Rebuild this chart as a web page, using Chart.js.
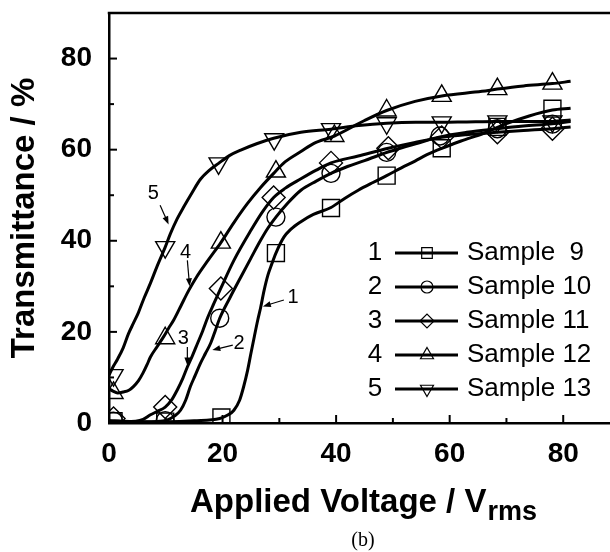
<!DOCTYPE html>
<html>
<head>
<meta charset="utf-8">
<script src="https://cdn.jsdelivr.net/npm/chart.js@4.4.1/dist/chart.umd.min.js"></script>
<style>
  html, body { margin: 0; padding: 0; background: #fff; overflow: hidden; }
  #wrap { width: 620px; height: 552px; }
</style>
</head>
<body>
<div id="wrap"><canvas id="grafico" width="620" height="552"></canvas></div>
<script>
// curvas medidas (tensão em Vrms, transmitância em %)
const v9 = [0, 5, 10, 15, 19.5, 21, 22, 23, 23.7, 24.4, 25, 25.6, 26.2, 26.7, 27.3, 28, 28.7, 29.4, 30.8, 32, 33.8, 36, 39.1, 41.5, 43.9, 46.5, 48.9, 51.5, 53.9, 56, 58.6, 62, 66, 70, 74, 78.1, 81.3];
const t9 = [0.5, 0.3, 0.3, 0.5, 1.0, 1.8, 2.8, 5, 7.9, 11.5, 15.3, 19, 22.6, 25.3, 29, 32.5, 35, 37.3, 40.8, 42.5, 44.2, 45.8, 47.3, 49.3, 51.1, 52.8, 54.3, 56, 57.5, 58.9, 60.3, 61.9, 63.6, 65.7, 67.4, 68.7, 69.1];

const v10 = [0, 5, 8, 10.3, 11.5, 12.6, 13.5, 14.3, 15.2, 16.1, 17, 17.9, 18.7, 19.5, 21.3, 23.2, 25, 26.7, 28, 29.4, 31.5, 33.8, 36.5, 39.1, 42, 45, 48, 51, 54, 58.3, 63, 68.4, 73, 78.1, 81.3];
const t10 = [0.3, 0.2, 0.3, 0.7, 1.5, 2.8, 5, 7.9, 10.5, 13.1, 15.3, 17.5, 20.2, 23, 27.5, 32, 36.2, 40.1, 42.8, 45.2, 48.3, 51.1, 53.1, 54.8, 56.3, 57.6, 59, 60.2, 61.3, 62.8, 63.8, 64.6, 65.2, 65.7, 66.2];

const v11 = [0, 3, 6, 7.3, 8.6, 9.9, 11, 12, 13, 13.8, 14.7, 15.6, 16.5, 17.4, 18.5, 19.7, 22, 25, 27, 29, 31, 33.8, 36.5, 39.1, 43.9, 49.2, 53.9, 58.6, 63, 68.4, 73, 78.1, 81.3];
const t11 = [0.5, 0.3, 0.8, 1.8, 2.6, 3.5, 5, 7.2, 9.8, 12.3, 14.8, 17.5, 20.2, 23.2, 26.3, 29.6, 35.7, 42.3, 46.3, 49.5, 51.5, 53.6, 55.5, 57.1, 58.6, 60.3, 61.6, 62.7, 63.3, 63.8, 64.2, 64.6, 65];

const v12 = [0, 0.7, 1.5, 2.5, 3.5, 4.3, 5.2, 6, 6.7, 7.3, 8.5, 9.6, 10.5, 11.4, 12.7, 14, 15.4, 17.5, 19.7, 22, 24.4, 26.7, 29, 31, 33.8, 36.1, 39.7, 45, 48.9, 53.9, 58.6, 65.7, 68.4, 73, 78.1, 81.3];
const t12 = [7.5, 7, 6.6, 6.8, 7.2, 8, 9.3, 11, 12.8, 14.5, 16.8, 18.9, 20.8, 22.6, 25.8, 29, 32, 35.8, 39.6, 44, 48.2, 51.7, 54.8, 57.3, 59.6, 61.4, 63, 66.4, 68.6, 70.6, 71.8, 72.8, 73.3, 74, 74.5, 75];

const v13 = [0, 0.7, 1.5, 2.5, 3.4, 4.3, 5.2, 6.2, 7.3, 8.5, 9.9, 10.8, 12, 13.1, 14.6, 16.1, 17.6, 19.3, 21.2, 23.2, 26, 29, 33.8, 39.1, 44, 48.9, 54, 58.6, 63, 68.4, 73, 78.1, 81.3];
const t13 = [10.5, 12.3, 14, 16.5, 19.5, 21.9, 24.3, 27.5, 30.7, 34.5, 38.6, 41.5, 44.8, 47.3, 50.5, 53.5, 55.4, 57, 58.7, 59.9, 61.3, 62.5, 63.8, 64.5, 65.3, 65.8, 66, 66, 66.1, 66.2, 66.2, 66.2, 66.5];

// posições dos símbolos sobre cada curva
const mv9 = [0.8, 9.9, 19.8, 29.4, 39.1, 48.9, 58.6, 68.4, 78.1];
const mt9 = [0.4, 0.3, 1.2, 37.3, 47.2, 54.3, 60.3, 65.0, 69.0];
const mv10 = [0.8, 9.9, 19.5, 29.4, 39.1, 48.9, 58.3, 68.4, 78.1];
const mt10 = [0.4, 0.5, 23.0, 45.2, 54.8, 59.4, 63.0, 64.6, 65.6];
const mv11 = [0.8, 9.9, 19.7, 29.0, 39.1, 49.2, 58.6, 68.4, 78.1];
const mt11 = [1.0, 3.5, 29.5, 49.5, 57.1, 60.3, 62.7, 63.8, 64.6];
const mv12 = [0.8, 9.9, 19.7, 29.4, 39.7, 48.9, 58.6, 68.4, 78.1];
const mt12 = [6.6, 18.6, 39.6, 55.2, 63.0, 68.6, 71.8, 73.3, 74.5];
const mv13 = [0.8, 9.9, 19.3, 29.1, 39.1, 48.9, 58.6, 68.4, 78.1];
const mt13 = [10.5, 38.6, 57.0, 62.3, 64.5, 65.8, 66.0, 66.2, 66.2];

const nomes = ["Sample  9", "Sample 10", "Sample 11", "Sample 12", "Sample 13"];
const numeros = ["1", "2", "3", "4", "5"];

const xTicks = [0, 20, 40, 60, 80];
const yTicks = [0, 20, 40, 60, 80];
const menores = [10, 30, 50, 70];

// rótulos numerados com setas (coordenadas de dados)
const rotX = [7.8, 13.5, 13.1, 22.9, 32.4];
const rotY = [50.4, 37.5, 18.6, 17.5, 27.6];
const rotTxt = ["5", "4", "3", "2", "1"];
const setaX1 = [9.0, 13.8, 13.8, 21.8, 30.8];
const setaY1 = [47.8, 35.7, 16.7, 17.1, 27.0];
const setaX2 = [10.5, 14.2, 13.8, 18.2, 27.1];
const setaY2 = [43.6, 30.0, 12.6, 16.0, 25.6];

const FONTE = "'Liberation Sans', Arial, Helvetica, sans-serif";

const curvas = [[v9, t9], [v10, t10], [v11, t11], [v12, t12], [v13, t13]];
const marcas = [[mv9, mt9], [mv10, mt10], [mv11, mt11], [mv12, mt12], [mv13, mt13]];
const simbolos = [
  { style: "rect", rot: 0, r: 12, rl: 7.5 },
  { style: "circle", rot: 0, r: 9, rl: 6 },
  { style: "rectRot", rot: 0, r: 11.5, rl: 7 },
  { style: "triangle", rot: 0, r: 11, rl: 7.5 },
  { style: "triangle", rot: 180, r: 11, rl: 7.5 }
];

const pares = (xs, ys) => xs.map((x, i) => ({ x: x, y: ys[i] }));

const datasets = [];
curvas.forEach((c, i) => {
  datasets.push({
    label: nomes[i],
    data: pares(c[0], c[1]),
    showLine: true,
    borderColor: "#000",
    borderWidth: 3,
    pointRadius: 0,
    cubicInterpolationMode: "monotone"
  });
});
marcas.forEach((m, i) => {
  datasets.push({
    label: nomes[i] + " marcas",
    data: pares(m[0], m[1]),
    showLine: false,
    pointStyle: simbolos[i].style,
    rotation: simbolos[i].rot,
    pointRadius: simbolos[i].r,
    pointBorderColor: "#000",
    pointBackgroundColor: "rgba(0,0,0,0)",
    pointBorderWidth: 1.4
  });
});

function desenhaSimbolo(ctx, s, x, y, r) {
  ctx.beginPath();
  if (s.style === "rect") {
    const h = r * Math.SQRT1_2;
    ctx.rect(x - h, y - h, 2 * h, 2 * h);
  } else if (s.style === "circle") {
    ctx.arc(x, y, r, 0, Math.PI * 2);
  } else if (s.style === "rectRot") {
    ctx.moveTo(x - r, y); ctx.lineTo(x, y - r); ctx.lineTo(x + r, y); ctx.lineTo(x, y + r); ctx.closePath();
  } else {
    const d = s.rot === 180 ? -1 : 1;
    ctx.moveTo(x, y - d * r);
    ctx.lineTo(x + r * 0.866, y + d * r * 0.5);
    ctx.lineTo(x - r * 0.866, y + d * r * 0.5);
    ctx.closePath();
  }
  ctx.stroke();
}

function seta(ctx, x1, y1, x2, y2) {
  const ang = Math.atan2(y2 - y1, x2 - x1);
  const L = 8, W = 3;
  ctx.beginPath();
  ctx.moveTo(x1, y1);
  ctx.lineTo(x2 - Math.cos(ang) * L * 0.8, y2 - Math.sin(ang) * L * 0.8);
  ctx.stroke();
  ctx.beginPath();
  ctx.moveTo(x2, y2);
  ctx.lineTo(x2 - Math.cos(ang) * L - Math.sin(ang) * W, y2 - Math.sin(ang) * L + Math.cos(ang) * W);
  ctx.lineTo(x2 - Math.cos(ang) * L + Math.sin(ang) * W, y2 - Math.sin(ang) * L - Math.cos(ang) * W);
  ctx.closePath();
  ctx.fill();
}

const extras = {
  id: "extras",
  afterDraw(chart) {
    const ctx = chart.ctx;
    const { left, right, top, bottom } = chart.chartArea;
    const sx = chart.scales.x, sy = chart.scales.y;
    ctx.save();
    ctx.strokeStyle = "#000";
    ctx.fillStyle = "#000";

    // moldura superior e direita
    ctx.lineWidth = 2.5;
    ctx.beginPath();
    ctx.moveTo(left - 1.25, top);
    ctx.lineTo(right, top);
    ctx.lineTo(right, bottom);
    ctx.stroke();

    // marcas internas dos eixos
    ctx.lineWidth = 2;
    xTicks.concat(menores).forEach(v => {
      const p = sx.getPixelForValue(v);
      const len = xTicks.includes(v) ? 8 : 5;
      ctx.beginPath(); ctx.moveTo(p, bottom); ctx.lineTo(p, bottom - len); ctx.stroke();
    });
    yTicks.concat(menores).forEach(v => {
      const p = sy.getPixelForValue(v);
      const len = yTicks.includes(v) ? 8 : 5;
      ctx.beginPath(); ctx.moveTo(left, p); ctx.lineTo(left + len, p); ctx.stroke();
    });

    // legenda
    ctx.font = "26px " + FONTE;
    ctx.textBaseline = "middle";
    nomes.forEach((n, i) => {
      const y = 253 + i * 34;
      ctx.textAlign = "center";
      ctx.fillText(numeros[i], 375, y);
      ctx.lineWidth = 2.8;
      ctx.beginPath(); ctx.moveTo(395, y); ctx.lineTo(458, y); ctx.stroke();
      ctx.lineWidth = 1.2;
      desenhaSimbolo(ctx, simbolos[i], 427, y, simbolos[i].rl);
      ctx.textAlign = "left";
      ctx.fillText(n, 467, y);
    });

    // números e setas sobre as curvas
    ctx.font = "20px " + FONTE;
    ctx.textAlign = "center";
    ctx.lineWidth = 1.2;
    rotTxt.forEach((t, i) => {
      ctx.fillText(t, sx.getPixelForValue(rotX[i]), sy.getPixelForValue(rotY[i]));
      seta(ctx, sx.getPixelForValue(setaX1[i]), sy.getPixelForValue(setaY1[i]),
        sx.getPixelForValue(setaX2[i]), sy.getPixelForValue(setaY2[i]));
    });

    // título do eixo y
    ctx.save();
    ctx.translate(25, (top + bottom) / 2);
    ctx.rotate(-Math.PI / 2);
    ctx.font = "bold 33px " + FONTE;
    ctx.textAlign = "center";
    ctx.fillText("Transmittance / %", 0, 0);
    ctx.restore();

    // título do eixo x com subscrito
    const principal = "Applied Voltage / V";
    const sub = "rms";
    ctx.textBaseline = "alphabetic";
    ctx.textAlign = "left";
    ctx.font = "bold 33px " + FONTE;
    const w1 = ctx.measureText(principal).width;
    ctx.font = "bold 27px " + FONTE;
    const w2 = ctx.measureText(sub).width;
    const x0 = 363 - (w1 + w2) / 2;
    ctx.font = "bold 33px " + FONTE;
    ctx.fillText(principal, x0, 512);
    ctx.font = "bold 27px " + FONTE;
    ctx.fillText(sub, x0 + w1 + 1, 520);

    // legenda da figura
    ctx.font = "20px 'Liberation Serif', 'Times New Roman', serif";
    ctx.textAlign = "center";
    ctx.textBaseline = "middle";
    ctx.fillText("(b)", 363, 541);
    ctx.restore();
  }
};

const ctx = document.getElementById("grafico");

new Chart(ctx, {
  type: "scatter",
  data: { datasets: datasets },
  options: {
    responsive: false,
    animation: false,
    layout: { autoPadding: false, padding: { top: 13, right: 0, left: 0, bottom: 0 } },
    plugins: {
      legend: { display: false },
      tooltip: { enabled: false }
    },
    scales: {
      x: {
        type: "linear",
        min: 0,
        max: 90,
        afterFit: s => { s.height = 129; s.paddingLeft = 0; s.paddingRight = 0; },
        afterBuildTicks: s => { s.ticks = xTicks.map(v => ({ value: v })); },
        grid: { display: false },
        border: { display: true, color: "#000", width: 2.5 },
        ticks: {
          color: "#000",
          padding: 6,
          autoSkip: false,
          maxRotation: 0,
          font: { family: FONTE, size: 28, weight: "bold" }
        }
      },
      y: {
        type: "linear",
        min: 0,
        max: 90,
        afterFit: s => { s.width = 109; s.paddingTop = 0; s.paddingBottom = 0; },
        afterBuildTicks: s => { s.ticks = yTicks.map(v => ({ value: v })); },
        grid: { display: false },
        border: { display: true, color: "#000", width: 2.5 },
        ticks: {
          color: "#000",
          padding: 9,
          autoSkip: false,
          font: { family: FONTE, size: 28, weight: "bold" }
        }
      }
    }
  },
  plugins: [extras]
});
</script>
</body>
</html>
